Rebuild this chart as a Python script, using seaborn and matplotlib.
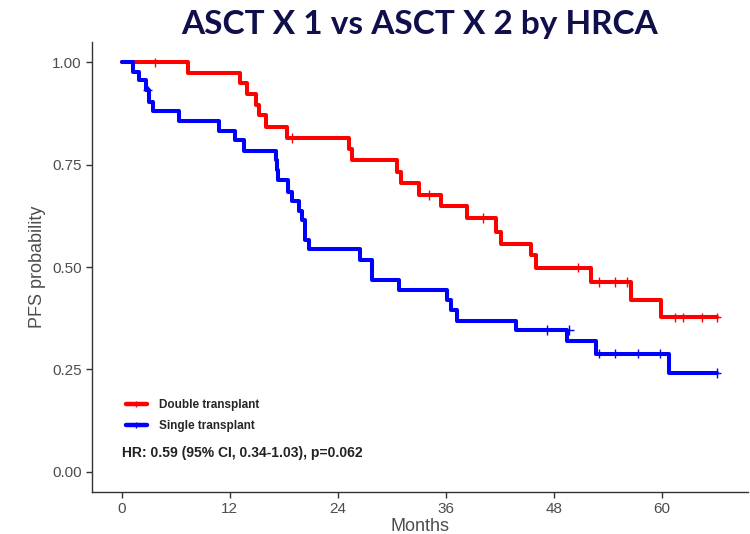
import matplotlib
matplotlib.use("Agg")
import matplotlib.pyplot as plt
from matplotlib.lines import Line2D
import seaborn as sns
import pandas as pd

# ---- data ----
groups = ["Double transplant", "Single transplant"]

double_time = [0, 7.4, 13.2, 13.9, 14.9, 15.3, 16.0, 18.4, 25.3, 25.6, 30.6, 31.0,
               33.0, 35.5, 38.4, 41.6, 42.1, 45.5, 46.0, 52.2, 56.6, 59.9, 66.1]
double_surv = [1.0, 0.975, 0.95, 0.924, 0.895, 0.871, 0.843, 0.815, 0.788, 0.761, 0.732, 0.706,
               0.676, 0.649, 0.62, 0.586, 0.556, 0.529, 0.498, 0.463, 0.42, 0.377, 0.377]
double_cens_time = [3.7, 18.9, 34.1, 40.2, 50.7, 53.0, 54.8, 56.1, 61.5, 62.4, 64.5, 66.1]
double_cens_surv = [1.0, 0.815, 0.676, 0.62, 0.498, 0.463, 0.463, 0.463, 0.377, 0.377, 0.377, 0.377]

single_time = [0, 1.3, 1.9, 2.7, 3.0, 3.5, 6.4, 10.8, 12.6, 13.6, 17.1, 17.3, 17.4, 18.5, 18.9,
               19.7, 20.0, 20.4, 20.8, 26.5, 27.8, 30.8, 36.2, 36.6, 37.3, 43.8, 49.5, 52.7,
               60.8, 66.1]
single_surv = [1.0, 0.976, 0.956, 0.932, 0.903, 0.881, 0.857, 0.832, 0.81, 0.783, 0.761, 0.736,
               0.712, 0.684, 0.661, 0.637, 0.615, 0.566, 0.543, 0.517, 0.468, 0.444, 0.42,
               0.395, 0.369, 0.346, 0.318, 0.288, 0.241, 0.241]
single_cens_time = [2.9, 47.3, 49.7, 53.0, 54.8, 57.4, 59.8, 66.1]
single_cens_surv = [0.932, 0.346, 0.346, 0.288, 0.288, 0.288, 0.288, 0.241]

colors = {"Double transplant": "#FF0000", "Single transplant": "#0000FF"}

curves = pd.concat([
    pd.DataFrame({"Months": double_time, "PFS": double_surv, "Group": groups[0]}),
    pd.DataFrame({"Months": single_time, "PFS": single_surv, "Group": groups[1]}),
])
cens = pd.concat([
    pd.DataFrame({"Months": double_cens_time, "PFS": double_cens_surv, "Group": groups[0]}),
    pd.DataFrame({"Months": single_cens_time, "PFS": single_cens_surv, "Group": groups[1]}),
])

sns.set_style("white")
plt.rcParams["font.family"] = ["Liberation Sans", "DejaVu Sans"]

fig = plt.figure(figsize=(7.5, 5.34), dpi=100)
ax = fig.add_axes([92 / 750, 1 - 492 / 534, (748 - 92) / 750, (492 - 42) / 534])

sns.lineplot(data=curves, x="Months", y="PFS", hue="Group", palette=colors,
             drawstyle="steps-post", estimator=None, sort=False, linewidth=2.9,
             legend=False, ax=ax)
sns.scatterplot(data=cens, x="Months", y="PFS", hue="Group", palette=colors,
                marker="+", s=45, linewidth=1.0, legend=False, ax=ax, zorder=3)

ax.set_xlim(-3.3, 69.6)
ax.set_ylim(-0.05, 1.05)
ax.set_xticks([0, 12, 24, 36, 48, 60])
ax.set_yticks([0.0, 0.25, 0.5, 0.75, 1.0])
ax.set_yticklabels(["0.00", "0.25", "0.50", "0.75", "1.00"])
ax.tick_params(axis="both", which="both", length=4, width=1, color="#333333",
               labelsize=11, labelcolor="#4d4d4d", direction="out", bottom=True, left=True)
for side in ["top", "right"]:
    ax.spines[side].set_visible(False)
for side in ["left", "bottom"]:
    ax.spines[side].set_color("#333333")
    ax.spines[side].set_linewidth(1.0)

ax.set_xlabel("Months", fontsize=13, color="#4d4d4d", labelpad=1)
ax.set_ylabel("PFS probability", fontsize=13, color="#4d4d4d", labelpad=4)

handles = [Line2D([0], [0], color=colors[g], lw=3.2, marker="+", markersize=5,
                  markeredgewidth=1.0) for g in groups]
leg = ax.legend(handles, groups, loc="upper left", bbox_to_anchor=(0.035, 0.23),
                frameon=False, prop={"weight": "bold", "size": 8.5},
                handlelength=1.8, handletextpad=1.0, labelspacing=0.75)

ax.text(0.045, 0.087, "HR: 0.59 (95% CI, 0.34-1.03), p=0.062", transform=ax.transAxes,
        fontsize=10, fontweight="bold", color="#222222", va="center", ha="left")

fig.text(0.56, 0.955, "ASCT X 1 vs ASCT X 2 by HRCA", ha="center", va="center",
         fontsize=24, fontweight="bold", color="#0F0F4B", family=["Lato", "DejaVu Sans"])

fig.savefig("out.png", dpi=100)
